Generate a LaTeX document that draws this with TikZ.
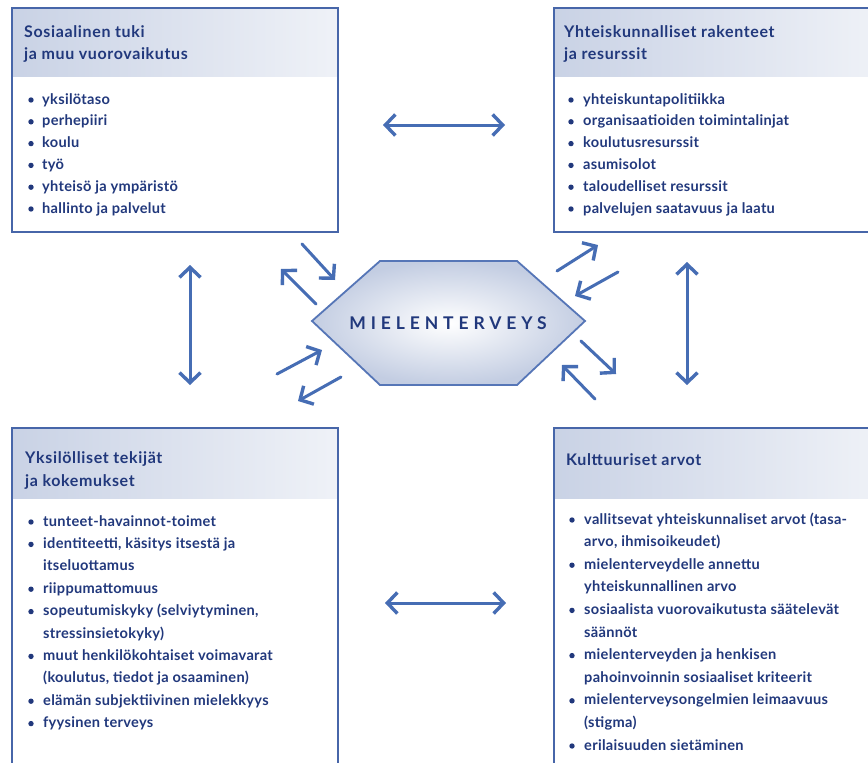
\documentclass[tikz,border=0pt]{standalone}
\usepackage{fontspec}
\setmainfont{Lato}
\newfontfamily\panelfont{Lato}[LetterSpace=2]
\newfontfamily\titlefont{Lato}[LetterSpace=4]
\newfontfamily\hexfont{Lato}[LetterSpace=28]
\usetikzlibrary{arrows.meta}

\definecolor{navy}{HTML}{21387C}
\definecolor{frame}{HTML}{4766A9}
\definecolor{arrowblue}{HTML}{466DB4}
\definecolor{hdr}{HTML}{C9D2E5}
\definecolor{hexedge}{HTML}{5676B7}
\definecolor{hexfill}{HTML}{C3CDE2}

\tikzset{
  panel/.style={draw=frame, line width=2.3pt, inner sep=0pt, anchor=north west},
  paneltitle/.style={anchor=base west, inner sep=0pt, text=navy,
    font=\titlefont\fontsize{16}{18}\selectfont\bfseries},
  itemtxt/.style={anchor=base west, inner sep=0pt, text=navy,
    font=\panelfont\fontsize{14.6}{17}\selectfont\bfseries},
  dot/.style={fill=navy, draw=none, circle, inner sep=0pt, minimum size=5.4pt},
  link/.style={draw=arrowblue, line width=3pt, line cap=round,
    arrows={Straight Barb[length=10pt,width=21pt,line width=3.4pt]-Straight Barb[length=10pt,width=21pt,line width=3.4pt]}},
  oneway/.style={draw=arrowblue, line width=3pt, line cap=round,
    -{Straight Barb[length=10pt,width=21pt,line width=3.4pt]}},
}

\begin{document}
\begin{tikzpicture}[x=1pt, y=-1pt]
\useasboundingbox (0,0) rectangle (868,763);
\fill[white] (0,0) rectangle (868,763);
\clip (0,0) rectangle (868,763);

% ---- header bands
\shade[left color=hdr, right color=hdr!30!white] (11,7) rectangle (337,76);
\shade[left color=hdr, right color=hdr!30!white] (553,7) rectangle (879,76);
\shade[left color=hdr, right color=hdr!30!white] (11,427) rectangle (337,498);
\shade[left color=hdr, right color=hdr!30!white] (553,427) rectangle (879,498);

% ---- panel frames
\node[panel, minimum width=326pt, minimum height=224pt] (sos) at (11,7) {};
\node[panel, minimum width=326pt, minimum height=224pt] (yht) at (553,7) {};
\node[panel, minimum width=326pt, minimum height=360pt] (yks) at (11,427) {};
\node[panel, minimum width=326pt, minimum height=360pt] (kul) at (553,427) {};

% ---- titles
\node[paneltitle] (sosT1) at (24,37) {Sosiaalinen tuki};
\node[paneltitle] (sosT2) at (24,59) {ja muu vuorovaikutus};
\node[paneltitle] (yhtT1) at (564,37) {Yhteiskunnalliset rakenteet};
\node[paneltitle] (yhtT2) at (564,59) {ja resurssit};
\node[paneltitle] (yksT1) at (25,463) {Yksilölliset tekijät};
\node[paneltitle] (yksT2) at (25,486) {ja kokemukset};
\node[paneltitle] (kulT1) at (566,465) {Kulttuuriset arvot};

% ---- lists (1 = new bullet, 0 = continued line)
\foreach \b/\t [count=\i] in {
  1/yksilötaso, 1/perhepiiri, 1/koulu, 1/työ,
  1/yhteisö ja ympäristö, 1/hallinto ja palvelut}{
  \node[itemtxt] (sosI\i) at (42,{104+21.8*(\i-1)}) {\t};
  \ifnum\b=1 \node[dot] (sosB\i) at (31,{100+21.8*(\i-1)}) {}; \fi
}
\foreach \b/\t [count=\i] in {
  1/yhteiskuntapolitiikka, 1/organisaatioiden toimintalinjat,
  1/koulutusresurssit, 1/asumisolot, 1/taloudelliset resurssit,
  1/palvelujen saatavuus ja laatu}{
  \node[itemtxt] (yhtI\i) at (583,{104+21.8*(\i-1)}) {\t};
  \ifnum\b=1 \node[dot] (yhtB\i) at (571,{100+21.8*(\i-1)}) {}; \fi
}
\foreach \b/\t [count=\i] in {
  1/tunteet-havainnot-toimet,
  1/{identiteetti, käsitys itsestä ja},
  0/itseluottamus,
  1/riippumattomuus,
  1/{sopeutumiskyky (selviytyminen,},
  0/stressinsietokyky),
  1/muut henkilökohtaiset voimavarat,
  0/{(koulutus, tiedot ja osaaminen)},
  1/elämän subjektiivinen mielekkyys,
  1/fyysinen terveys}{
  \node[itemtxt] (yksI\i) at (43,{526+22.4*(\i-1)}) {\t};
  \ifnum\b=1 \node[dot] (yksB\i) at (31,{522+22.4*(\i-1)}) {}; \fi
}
\foreach \b/\t [count=\i] in {
  1/vallitsevat yhteiskunnaliset arvot (tasa-,
  0/{arvo, ihmisoikeudet)},
  1/mielenterveydelle annettu,
  0/yhteiskunnallinen arvo,
  1/sosiaalista vuorovaikutusta säätelevät,
  0/säännöt,
  1/mielenterveyden ja henkisen,
  0/pahoinvoinnin sosiaaliset kriteerit,
  1/mielenterveysongelmien leimaavuus,
  0/(stigma),
  1/erilaisuuden sietäminen}{
  \node[itemtxt] (kulI\i) at (584,{524+22.6*(\i-1)}) {\t};
  \ifnum\b=1 \node[dot] (kulB\i) at (572,{520+22.6*(\i-1)}) {}; \fi
}

% ---- centre hexagon
\shade[inner color=white, outer color=hexfill, draw=hexedge, line width=1.8pt]
  (312,321) -- (380,261) -- (517,261) -- (585,321) -- (517,385) -- (380,385) -- cycle;
\node[inner sep=0pt, text=navy, font=\hexfont\fontsize{17.5}{20}\selectfont\bfseries]
  (mt) at (448,323) {MIELENTERVEYS};

% ---- two-way links between panels
\coordinate (h1a) at (383,125); \coordinate (h1b) at (505,125);
\coordinate (h2a) at (385,603); \coordinate (h2b) at (506,603);
\coordinate (v1a) at (190,265); \coordinate (v1b) at (190,385);
\coordinate (v2a) at (687,262); \coordinate (v2b) at (687,385);
\draw[link] (h1a) -- (h1b);
\draw[link] (h2a) -- (h2b);
\draw[link] (v1a) -- (v1b);
\draw[link] (v2a) -- (v2b);

% ---- arrows to and from the centre
\coordinate (a1s) at (302,244); \coordinate (a1e) at (335,280);
\coordinate (a2s) at (316,304); \coordinate (a2e) at (281,269);
\coordinate (a3s) at (557,271); \coordinate (a3e) at (598,245);
\coordinate (a4s) at (618,272); \coordinate (a4e) at (575,296);
\coordinate (a5s) at (277,374); \coordinate (a5e) at (322,350);
\coordinate (a6s) at (341,377); \coordinate (a6e) at (298,401);
\coordinate (a7s) at (581,341); \coordinate (a7e) at (616,374);
\coordinate (a8s) at (595,399); \coordinate (a8e) at (562,365);
\foreach \k in {1,...,8}{ \draw[oneway] (a\k s) -- (a\k e); }
\end{tikzpicture}
\end{document}
